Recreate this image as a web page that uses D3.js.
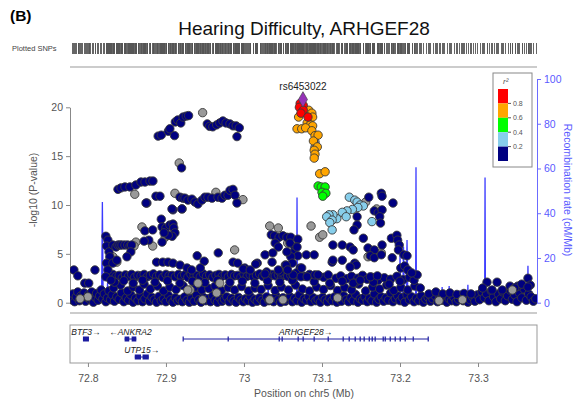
<!DOCTYPE html>
<html><head><meta charset="utf-8">
<script src="https://cdn.jsdelivr.net/npm/d3@7"></script>
<style>body{margin:0;background:#fff} svg{display:block;font-family:"Liberation Sans",Arial,sans-serif}</style>
</head><body><svg id="c" width="576" height="402"></svg>
<script>
const panelLabel = "(B)";
const chartTitle = "Hearing Difficulty, ARHGEF28";
const xTicks = [72.8, 72.9, 73.0, 73.1, 73.2, 73.3];
const xTickLabels = ["72.8", "72.9", "73", "73.1", "73.2", "73.3"];
const yTicks = [0, 5, 10, 15, 20];
const recTicks = [0, 20, 40, 60, 80, 100];
const r2Breaks = ["0.8", "0.6", "0.4", "0.2"];
const r2Colors = ["#ff0000", "#ffa500", "#00ff00", "#87ceeb", "#000080"];

const leadSNP = {name: "rs6453022", pos: 73.0756, logp: 20.8};
const redSNPs = [[73.072,20.4],[73.076,20.2],[73.071,20.0],[73.076,19.7],[73.073,19.4],[73.082,19.0]];
const orangeSNPs = [[73.083,19.7],[73.087,19.4],[73.088,19.0],[73.070,19.0],[73.081,18.4],[73.085,18.2],[73.088,18.1],[73.068,17.8],[73.074,17.8],[73.079,17.9],[73.087,17.6],[73.091,17.1],[73.095,17.15],[73.089,16.55],[73.094,15.95],[73.090,15.6],[73.091,15.2],[73.090,14.8],[73.097,13.2],[73.104,13.4]];
const greenSNPs = [[73.095,11.95],[73.099,11.85],[73.104,11.85],[73.100,11.3],[73.105,11.2],[73.101,10.9]];
const lightBlueSNPs = [[73.135,10.8],[73.142,10.5],[73.145,10.3],[73.149,10.0],[73.153,9.9],[73.146,9.75],[73.139,9.55],[73.132,9.4],[73.126,9.25],[73.131,8.8],[73.119,8.6],[73.114,9.0],[73.109,9.0],[73.106,8.8],[73.113,8.45],[73.110,8.2],[73.113,7.45],[73.164,8.3]];
const graySNPs = [[72.947,19.45],[72.917,14.3],[72.860,11.1],[72.9115,11.2],[72.964,11.3],[72.9987,10.55],[73.091,16.45],[73.091,15.9],[73.156,10.3],[73.086,7.85],[73.097,6.7],[73.101,6.95],[73.170,9.6],[73.033,7.85],[73.044,7.65],[73.056,6.1],[72.8692,7.75],[72.899,6.7],[72.883,5.8],[72.8615,6.2],[72.859,5.8],[72.837,4.15],[72.832,4.7],[72.988,5.4],[73.159,4.7],[73.176,5.1],[72.969,2.0],[72.941,2.0],[72.931,1.3],[72.965,1.0],[72.947,0.3],[73.033,0.3],[73.050,0.3],[72.928,1.3],[73.344,1.3],[72.800,0.6],[72.790,0.4],[73.250,0.2],[73.120,0.5],[73.280,0.3]];
const navyHighSNPs = [[72.890,17.05],[72.894,17.15],[72.903,17.55],[72.905,17.8],[72.911,17.1],[72.912,18.5],[72.915,18.7],[72.919,18.4],[72.922,19.0],[72.926,19.1],[72.929,19.15],[72.953,18.3],[72.956,18.05],[72.960,18.0],[72.965,18.2],[72.969,18.4],[72.973,18.6],[72.977,18.4],[72.982,18.3],[72.986,18.1],[72.990,18.1],[72.994,17.9],[72.991,17.0],[72.920,13.8],
[72.8385,11.6],[72.8423,11.75],[72.8474,11.85],[72.8538,11.85],[72.8615,12.05],[72.868,12.35],[72.8731,12.35],[72.8795,12.45],[72.8833,12.45],[72.8744,10.2],[72.8872,10.9],[72.8923,10.9],[72.918,10.8],[72.9218,10.7],[72.9077,9.6],[72.9205,9.6],
[72.9244,10.7],[72.9282,10.5],[72.9333,10.6],[72.9372,10.3],[72.941,10.1],[72.9462,10.5],[72.950,10.8],[72.9538,10.8],[72.959,10.7],[72.9667,10.8],[72.9718,10.7],[72.9756,11.0],[72.9795,11.0],[72.9821,11.5],[72.9859,11.6],[72.9885,11.0],[72.991,10.2]];
const navyMidSNPs = [[73.160,10.8],[73.176,11.2],[73.177,10.9],[73.191,10.2],[73.167,9.4],[73.172,9.2],[73.177,9.5],[73.174,8.8],[73.175,8.15],[73.145,8.8],[73.145,7.95],[73.141,7.45],[73.153,6.6],
[73.035,6.95],[73.039,6.85],[73.045,6.7],[73.050,6.85],[73.055,6.7],[73.060,6.7],[73.069,6.5],[73.040,6.1],[73.044,5.7],[73.065,5.7],[73.063,5.1],[73.069,4.8],[73.060,4.7],[73.053,3.85],[73.062,4.05],[73.072,3.55],[73.067,3.05],[73.073,2.65],
[73.114,5.9],[73.126,5.9],[73.136,5.7],[73.140,5.4],[73.113,4.15],[73.126,4.35],[73.142,4.05],[73.080,4.9],[73.090,4.9],[73.074,3.55],[73.081,2.65],[73.091,2.85],[73.095,2.85],
[73.159,5.6],[73.167,5.4],[73.177,5.9],[73.189,6.6],[73.196,6.9],[73.197,6.4],[73.199,5.9],[73.198,5.4],[73.205,4.9],[73.209,4.8],[73.162,4.8],[73.167,4.6],[73.176,4.9],[73.190,4.6],[73.201,3.55],[73.206,3.75],[73.210,3.35],[73.222,2.85],[73.215,3.05],[73.144,3.85],[73.136,3.65],[73.114,4.35],[73.162,2.65],[73.171,2.75],[73.140,2.0],[73.149,2.3],
[72.823,6.8],[72.8256,6.4],[72.824,5.8],[72.827,5.2],[72.828,4.7],[72.824,4.05],[72.8256,3.35],[72.823,2.65],[72.8295,2.3],[72.832,4.05],[72.837,4.35],
[72.832,5.9],[72.836,5.7],[72.8385,5.9],[72.841,5.9],[72.8436,5.9],[72.8474,5.9],[72.851,5.9],[72.854,5.8],[72.856,5.9],[72.855,5.2],[72.850,4.7],
[72.782,3.35],[72.787,2.75],[72.796,2.0],[72.801,2.0],[72.809,3.35],
[72.873,7.35],[72.883,7.45],[72.894,8.55],[72.895,7.75],[72.900,7.65],[72.905,7.95],[72.909,8.05],[72.910,7.65],[72.9115,7.15],[72.908,6.8],[72.903,6.9],[72.8975,7.15],[72.878,6.4],[72.872,6.3],[72.895,6.2],[72.909,9.5],[72.9205,9.6],[72.8756,10.2],
[72.888,4.15],[72.896,4.15],[72.9026,4.15],[72.909,4.05],[72.918,3.85],[72.927,3.55],[72.940,4.8],[72.949,4.25],[72.967,5.1],[72.986,4.15],[72.992,4.05],[73.001,3.55],[73.017,4.05],[73.027,4.9],[73.037,5.1],[73.029,3.15],[73.046,3.15],[73.063,2.85],[73.055,5.2],[73.059,6.1],[73.068,5.7],
[72.933,3.35],[72.944,3.55],[72.999,3.45],[73.008,3.35],[73.015,3.95],[73.036,4.15],[73.054,3.85],[73.044,3.35],[73.027,2.95],[73.056,3.35]];
const navyBandSNPs = [[72.828,2.6],[72.832,2.9],[72.836,2.7],[72.840,2.8],[72.844,2.55],[72.848,2.85],[72.852,2.7],[72.856,2.9],[72.860,2.6],[72.864,2.8],[72.868,2.75],[72.872,2.9],[72.876,2.65],[72.880,2.8],[72.884,2.95],[72.888,2.7],[72.892,2.85],[72.896,2.6],[72.900,2.9],[72.904,2.75],[72.908,2.8],[72.912,2.65],[72.916,2.9],[72.920,2.7],[72.924,2.85],[72.928,2.6],[72.932,2.9],[72.936,2.75],[72.940,2.8],[72.944,2.65],[72.948,2.95],[72.952,2.7],[72.956,2.85],[72.960,2.6],[72.964,2.8],[72.968,2.9],[72.972,2.7],[72.976,2.85],[72.980,2.65],[72.984,2.9],[72.988,2.75],[72.992,2.8],[72.996,2.6],[73.000,2.9],[73.004,2.7],[73.008,2.85],[73.012,2.65],[73.016,2.8],[73.020,2.95],[73.024,2.7],[73.028,2.8],[73.032,2.6],[73.036,2.9],[73.040,2.75],[73.044,2.85],[73.048,2.65],[73.052,2.9],[73.056,2.7],[73.060,2.8],[73.064,2.6],[73.078,2.7],[73.084,2.9],[73.096,2.75],[73.102,2.6],[73.108,2.85],[73.118,2.5],[73.124,2.75],[73.132,2.45],[73.138,2.7],[73.146,2.5],[73.152,2.8],[73.158,2.4],[73.164,2.6],[73.172,2.3],[73.180,2.55],[73.188,2.4],[73.196,2.7],[73.204,2.35],[73.212,2.6],[73.218,2.3],
[72.834,2.1],[72.846,2.25],[72.858,2.0],[72.870,2.3],[72.886,2.1],[72.902,2.25],[72.918,2.0],[72.934,2.2],[72.950,2.05],[72.966,2.3],[72.982,2.1],[72.998,2.2],[73.014,2.0],[73.030,2.25],[73.046,2.1],[73.062,2.3],[73.090,2.15],[73.110,2.0],[73.126,2.2],[73.142,2.0],[73.166,2.1],[73.186,1.9],[73.200,2.2]];
const navyLowSNPs = [[72.779,0.3],[72.781,0.9],[72.783,0.1],[72.785,0.6],[72.787,1.1],[72.789,0.2],[72.791,0.7],[72.793,0.4],[72.795,1.0],[72.797,0.15],[72.799,0.55],[72.801,0.85],[72.803,0.3],[72.805,1.1],[72.807,0.05],[72.809,0.6],[72.811,0.95],[72.813,0.25],[72.815,0.7],[72.817,1.3],[72.819,0.4],[72.821,0.9],[72.823,0.1],[72.825,0.5],[72.827,1.2],[72.829,0.3],[72.831,0.8],[72.834,0.15],[72.837,0.6],[72.840,0.35],[72.843,1.0],[72.846,0.1],[72.849,0.5],[72.852,0.25],[72.855,0.8],[72.858,0.05],[72.861,0.45],[72.864,0.2],[72.867,0.7],[72.870,0.1],[72.873,0.4],[72.876,0.9],[72.879,0.15],[72.882,0.55],[72.885,0.3],[72.888,0.05],[72.891,0.65],[72.894,0.2],[72.897,0.4],[72.900,0.1],[72.903,0.75],[72.906,0.3],[72.909,0.05],[72.912,0.5],[72.915,0.2],[72.918,0.35],[72.921,0.1],[72.924,0.6],[72.927,0.25],[72.930,0.05],[72.933,0.45],[72.936,0.15],[72.939,0.8],[72.942,0.3],[72.945,0.05],[72.948,0.55],[72.951,0.2],[72.954,0.4],[72.957,0.1],[72.960,0.7],[72.963,0.25],[72.966,0.05],[72.969,0.5],[72.972,0.15],[72.975,0.35],[72.978,0.6],[72.981,0.1],[72.984,0.45],[72.987,0.2],[72.990,0.05],[72.993,0.55],[72.996,0.3],[72.999,0.1],[73.002,0.4],[73.005,0.2],[73.008,0.65],[73.011,0.05],[73.014,0.35],[73.017,0.15],[73.020,0.5],[73.023,0.25],[73.026,0.05],[73.029,0.6],[73.032,0.2],[73.035,0.4],[73.038,0.1],[73.041,0.7],[73.044,0.3],[73.047,0.05],[73.050,0.5],[73.053,0.15],[73.056,0.35],[73.059,0.6],[73.062,0.1],[73.065,0.45],[73.068,0.2],[73.071,0.8],[73.074,0.05],[73.077,0.4],[73.080,0.25],[73.083,0.6],[73.086,0.1],[73.089,0.5],[73.092,0.2],[73.095,0.35],[73.098,0.05],[73.101,0.55],[73.104,0.3],[73.107,0.1],[73.110,0.45],[73.113,0.2],[73.116,0.6],[73.119,0.05],[73.122,0.4],[73.125,0.15],[73.128,0.7],[73.131,0.3],[73.134,0.1],[73.137,0.5],[73.140,0.2],[73.143,0.85],[73.146,0.05],[73.149,0.4],[73.152,0.25],[73.155,0.6],[73.158,0.1],[73.161,0.45],[73.164,0.2],[73.167,0.9],[73.170,0.05],[73.173,0.35],[73.176,0.6],[73.179,0.15],[73.182,0.5],[73.185,0.25],[73.188,1.0],[73.191,0.1],[73.194,0.4],[73.197,0.7],[73.200,0.2],[73.203,0.55],[73.206,0.05],[73.209,0.8],[73.212,0.3],[73.215,0.6],[73.218,0.1],[73.221,0.45],[73.224,0.2],[73.227,0.7],[73.230,0.05],[73.233,0.35],[73.236,0.55],[73.239,0.15],[73.242,0.4],[73.245,0.7],[73.248,0.1],[73.251,0.5],[73.254,0.25],[73.257,0.6],[73.260,0.05],[73.263,0.4],[73.266,0.2],[73.269,0.55],[73.272,0.1],[73.275,0.35],[73.278,0.65],[73.281,0.2],[73.284,0.45],[73.287,0.05],[73.290,0.3],[73.293,0.6],[73.296,0.15],[73.299,0.8],[73.302,0.3],[73.305,1.1],[73.308,0.5],[73.311,0.9],[73.314,0.2],[73.317,1.2],[73.320,0.6],[73.323,0.1],[73.326,0.9],[73.329,0.4],[73.332,1.1],[73.335,0.2],[73.338,0.7],[73.341,1.3],[73.344,0.35],[73.347,0.8],[73.350,0.1],[73.353,1.0],[73.356,0.5],[73.359,1.4],[73.362,0.25],[73.365,0.9],[73.368,0.6],[73.371,0.15],[73.374,0.4],
[72.833,1.5],[72.842,1.8],[72.851,1.2],[72.858,1.6],[72.866,1.3],[72.872,1.9],[72.880,1.4],[72.889,1.7],[72.897,1.2],[72.905,1.6],[72.913,1.35],[72.922,1.75],[72.930,1.2],[72.938,1.6],[72.946,1.3],[72.955,1.45],[72.963,1.7],[72.971,1.25],[72.980,1.55],[72.988,1.3],[72.997,1.65],[73.006,1.2],[73.014,1.5],[73.022,1.35],[73.031,1.75],[73.040,1.25],[73.048,1.6],[73.057,1.3],[73.066,1.8],[73.075,1.4],[73.084,1.2],[73.093,1.6],[73.102,1.35],[73.111,1.75],[73.120,1.25],[73.129,1.55],[73.138,1.3],[73.147,1.9],[73.156,1.2],[73.165,1.6],[73.174,1.4],[73.183,1.8],[73.192,1.25],[73.201,1.55],[73.210,1.3],[73.219,1.7],[73.226,1.5],[73.237,0.9],[73.246,1.1],[73.255,0.9],[73.264,1.0],[73.273,0.85],[73.282,0.95],[73.291,0.9],[73.3115,2.1],[73.3244,2.1],[73.341,1.7],[73.351,1.7],[73.356,1.9],[73.364,2.5],[73.367,1.8],[73.306,1.5],[73.318,1.3],[73.331,1.3],[73.347,1.5],[73.364,1.6]];

const recombRate = [[72.777,0.5],[72.790,1.0],[72.805,0.8],[72.8175,1.5],[72.8185,45],[72.8195,2.0],[72.824,1.2],[72.8252,9],[72.8262,1.0],[72.845,0.5],[72.8755,0.8],[72.876,7.5],[72.8765,0.6],[72.900,0.3],[72.930,0.5],[72.960,0.3],[72.990,0.8],[73.020,1.0],[73.0305,1.2],[73.031,7.5],[73.0315,1.0],[73.050,1.5],[73.0675,2.0],[73.068,47],[73.0685,2.5],[73.080,1.5],[73.110,0.8],[73.140,1.0],[73.1665,1.2],[73.167,6.5],[73.1675,1.0],[73.180,1.5],[73.1995,1.0],[73.2,22],[73.201,2],[73.2035,3],[73.2045,25],[73.2055,4],[73.208,3],[73.209,28],[73.210,3],[73.220,2],[73.2205,60.5],[73.221,1.5],[73.240,1.0],[73.2535,0.8],[73.254,7],[73.2545,0.8],[73.2625,0.8],[73.263,7.5],[73.2635,0.8],[73.2715,0.8],[73.272,5.5],[73.2725,0.8],[73.2765,0.8],[73.277,5.5],[73.2775,0.8],[73.2865,0.8],[73.287,8],[73.2875,0.8],[73.300,0.8],[73.3085,1.0],[73.309,56],[73.3095,1.5],[73.330,1.5],[73.3635,2],[73.364,16.5],[73.3645,2],[73.3756,1.0]];

const genes = [
  {name: "BTF3", strand: "+", start: 72.7936, end: 72.8013, row: 0, exons: [[72.7936,72.8013]]},
  {name: "ANKRA2", strand: "-", start: 72.847, end: 72.862, row: 0, exons: [[72.847,72.853],[72.856,72.862]]},
  {name: "UTP15", strand: "+", start: 72.860, end: 72.878, row: 1, exons: [[72.860,72.868],[72.870,72.878]]},
  {name: "ARHGEF28", strand: "+", start: 72.922, end: 73.236, row: 0,
   exons: [72.9218,72.9795,73.0449,73.0487,73.0692,73.0756,73.0897,73.1077,73.1269,73.1346,73.1423,73.1487,73.1538,73.1603,73.1641,73.1679,73.1782,73.1808,73.1872,73.1936,73.2,73.2064,73.2167,73.2359].map(p=>[p-0.0005,p+0.0005])}
];

const svg = d3.select("#c");
const x = d3.scaleLinear().domain([72.777, 73.3756]).range([70, 537]);
const y = d3.scaleLinear().domain([0, 20]).range([302.7, 107.3]);
const yR = d3.scaleLinear().domain([0, 100]).range([302.7, 79]);
const gray = "#555";

// header
svg.append("text").attr("x", 10).attr("y", 21).attr("font-weight", "bold").attr("font-size", 15.5).text(panelLabel);
svg.append("text").attr("x", 304).attr("y", 35).attr("text-anchor", "middle").attr("font-size", 19).attr("fill", "#111").text(chartTitle);
svg.append("text").attr("x", 12).attr("y", 51).attr("font-size", 7.5).attr("fill", "#444").text("Plotted SNPs");

const allSNPs = [].concat(graySNPs, navyHighSNPs, navyMidSNPs, navyBandSNPs, navyLowSNPs, lightBlueSNPs, greenSNPs, orangeSNPs, redSNPs, [[leadSNP.pos, leadSNP.logp]]);
svg.append("g").selectAll("line").data(allSNPs).join("line")
  .attr("x1", d => Math.round(x(d[0])) + 0.5).attr("x2", d => Math.round(x(d[0])) + 0.5)
  .attr("y1", 43).attr("y2", 54).attr("stroke", "#555").attr("stroke-width", 0.9);

// frame lines
[67, 313].forEach(v => svg.append("line").attr("x1", 70).attr("x2", 537).attr("y1", v).attr("y2", v).attr("stroke", "#bbb").attr("stroke-width", 1.5));

// clip
svg.append("clipPath").attr("id", "pc").append("rect").attr("x", 70).attr("y", 67).attr("width", 467).attr("height", 246);

// recombination
svg.append("path").datum(recombRate).attr("clip-path", "url(#pc)")
  .attr("d", d3.line().x(d => x(d[0])).y(d => yR(d[1])))
  .attr("fill", "none").attr("stroke", "#3b3bff").attr("stroke-width", 1.3);

// axes
const ly = svg.append("g").attr("transform", "translate(70,0)")
  .call(d3.axisLeft(y).tickValues(yTicks).tickSize(4).tickSizeOuter(0));
ly.select(".domain").attr("stroke", "#888");
ly.selectAll(".tick line").attr("stroke", "#888");
ly.selectAll(".tick text").attr("fill", gray).attr("font-size", 10.5).attr("font-family", "Liberation Sans, Arial, sans-serif");

const ry = svg.append("g").attr("transform", "translate(537,0)")
  .call(d3.axisRight(yR).tickValues(recTicks).tickSize(4).tickSizeOuter(0));
ry.select(".domain").attr("stroke", "#6b6bff");
ry.selectAll(".tick line").attr("stroke", "#6b6bff");
ry.selectAll(".tick text").attr("fill", "#5a5aff").attr("font-size", 10.5).attr("font-family", "Liberation Sans, Arial, sans-serif");

svg.append("text").attr("transform", "translate(37,190) rotate(-90)").attr("text-anchor", "middle")
  .attr("font-size", 10.5).attr("fill", gray).text("-log10 (P-value)");
svg.append("text").attr("transform", "translate(564,190) rotate(90)").attr("text-anchor", "middle")
  .attr("font-size", 10.5).attr("fill", "#5a5aff").text("Recombination rate (cM/Mb)");

// points
const ptG = svg.append("g").attr("clip-path", "url(#pc)");
function drawPts(data, fill) {
  ptG.append("g").selectAll("circle").data(data).join("circle")
    .attr("cx", d => x(d[0])).attr("cy", d => y(d[1])).attr("r", 4.2)
    .attr("fill", fill).attr("stroke", "#3a3a3a").attr("stroke-width", 0.9);
}
drawPts(navyLowSNPs, r2Colors[4]);
drawPts(navyBandSNPs, r2Colors[4]);
drawPts(graySNPs, "#999999");
drawPts(navyMidSNPs, r2Colors[4]);
drawPts(navyHighSNPs, r2Colors[4]);
drawPts(lightBlueSNPs, r2Colors[3]);
drawPts(greenSNPs, r2Colors[2]);
drawPts(orangeSNPs, r2Colors[1]);
drawPts(redSNPs, r2Colors[0]);
ptG.append("path").attr("d", d3.symbol(d3.symbolDiamond, 70)())
  .attr("transform", `translate(${x(leadSNP.pos)},${y(leadSNP.logp)})`)
  .attr("fill", "#9632b8").attr("stroke", "#444").attr("stroke-width", 0.7);
svg.append("text").attr("x", x(leadSNP.pos)).attr("y", y(leadSNP.logp) - 9).attr("text-anchor", "middle")
  .attr("font-size", 10).attr("fill", "#222").text(leadSNP.name);

// legend
const lg = svg.append("g");
lg.append("rect").attr("x", 493).attr("y", 73).attr("width", 39).attr("height", 94).attr("fill", "#fff").attr("stroke", "#888");
lg.append("text").attr("x", 503).attr("y", 84).attr("font-size", 8).attr("font-style", "italic").attr("fill", gray).text("r²");
const ly2 = d3.scaleLinear().domain([0, 5]).range([89, 161]);
r2Colors.forEach((c, i) => lg.append("rect").attr("x", 498).attr("y", ly2(i)).attr("width", 10).attr("height", ly2(i + 1) - ly2(i)).attr("fill", c));
r2Breaks.forEach((t, i) => {
  lg.append("line").attr("x1", 508).attr("x2", 511).attr("y1", ly2(i + 1)).attr("y2", ly2(i + 1)).attr("stroke", gray);
  lg.append("text").attr("x", 513).attr("y", ly2(i + 1) + 2.5).attr("font-size", 7).attr("fill", gray).text(t);
});

// gene panel
svg.append("rect").attr("x", 70).attr("y", 325).attr("width", 467).attr("height", 38).attr("fill", "none").attr("stroke", "#999");
const geneColor = "#1c1ca0";
const rowY = [339, 357];
const gg = svg.append("g");
genes.forEach(g => {
  const yy = rowY[g.row];
  gg.append("line").attr("x1", x(g.start)).attr("x2", x(g.end)).attr("y1", yy).attr("y2", yy).attr("stroke", geneColor).attr("stroke-width", 1);
  g.exons.forEach(e => gg.append("rect").attr("x", x(e[0])).attr("y", yy - 2.5).attr("width", Math.max(1.2, x(e[1]) - x(e[0]))).attr("height", 5).attr("fill", geneColor));
  const label = g.strand === "+" ? g.name + "\u2192" : "\u2190" + g.name;
  gg.append("text").attr("x", x((g.start + g.end) / 2)).attr("y", yy - 4).attr("text-anchor", "middle")
    .attr("font-size", 8.5).attr("font-style", "italic").attr("fill", "#222").text(label);
});

// x axis
const xa = svg.append("g").attr("transform", "translate(0,363)")
  .call(d3.axisBottom(x).tickValues(xTicks).tickSize(4).tickFormat((d, i) => xTickLabels[i]));
xa.select(".domain").remove();
xa.selectAll(".tick line").attr("stroke", "#888");
xa.selectAll(".tick text").attr("fill", gray).attr("font-size", 10.5).attr("dy", "1.1em").attr("font-family", "Liberation Sans, Arial, sans-serif");
svg.append("text").attr("x", 304).attr("y", 397).attr("text-anchor", "middle").attr("font-size", 10.5).attr("fill", gray).text("Position on chr5 (Mb)");
</script></body></html>
